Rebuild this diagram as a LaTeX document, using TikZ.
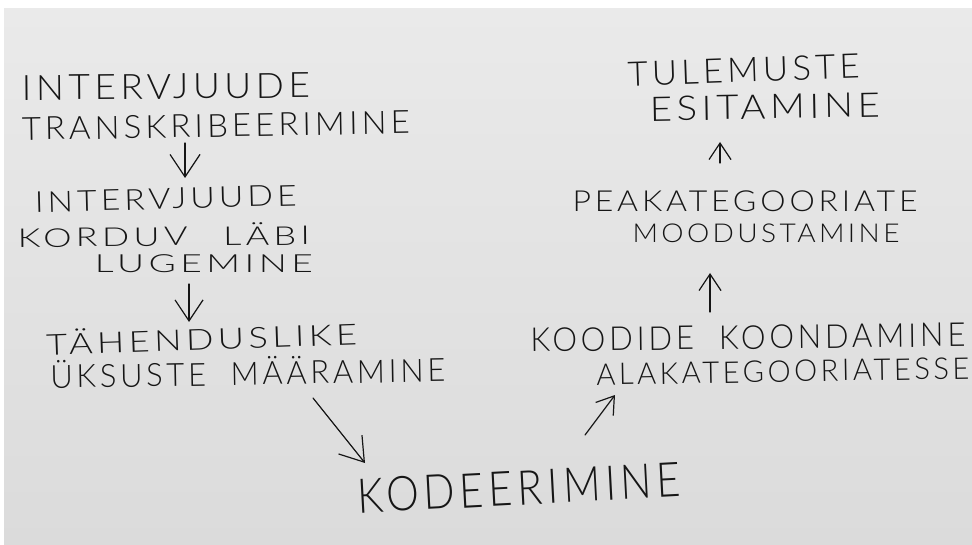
\documentclass[tikz,border=0pt]{standalone}
\usepackage{fontspec}
\usepackage{graphicx}
\usetikzlibrary{arrows.meta}
\usetikzlibrary{calc}

\IfFontExistsTF{Lato Light}
  {\newfontfamily\kiri{Lato Light}[LetterSpace=12]}
  {\newfontfamily\kiri{Open Sans}[LetterSpace=12]}

\definecolor{paber}{RGB}{234,234,234}
\definecolor{paberall}{RGB}{219,219,219}
\definecolor{tint}{RGB}{22,22,22}

% one handwritten line: width (pt), font size (pt), text
\newcommand\rida[3]{{\fontsize{#2}{#2}\selectfont\resizebox{#1pt}{\height}{#3}}}

\begin{document}
\begin{tikzpicture}[x=1pt, y=-1pt, line cap=round, line join=round,
    kiri/.style={anchor=base, inner sep=0pt, text=tint, font=\kiri},
    nool/.style={draw=tint, line width=1.2pt,
      -{Straight Barb[length=#1*0.75pt, width=#1*1pt, line width=1.2pt]}},
    nool/.default=26]

  % ===== Paper =====
  \useasboundingbox (0,0) rectangle (972,545);
  \fill[white] (0,0) rectangle (972,545);
  \shade[top color=paber, bottom color=paberall] (4,9) rectangle (972,545);

  % ===== Left column =====
  \node[kiri, rotate=0.5] (intv1) at (166,99)  {\rida{288}{35}{INTERVJUUDE}};
  \node[kiri, rotate=1] (transkr) at (216,137) {\rida{388}{32}{TRANSKRIBEERIMINE}};

  \node[kiri, rotate=1.5] (intv2) at (166,209) {\rida{262}{29}{INTERVJUUDE}};
  \node[kiri, rotate=0.5] (korduv) at (164,246) {\rida{292}{26}{KORDUV\hspace{1em}LÄBI}};
  \node[kiri] (lugem)             at (204,273) {\rida{218}{25}{LUGEMINE}};

  \node[kiri, rotate=2] (tahend)  at (202,350) {\rida{311}{29}{TÄHENDUSLIKE}};
  \node[kiri, rotate=1] (maaram)  at (248,385) {\rida{395}{32}{ÜKSUSTE\hspace{0.8em}MÄÄRAMINE}};

  % ===== Bottom =====
  \node[kiri, rotate=3] (kodeer)  at (520,505) {\rida{324}{48}{KODEERIMINE}};

  % ===== Right column =====
  \node[kiri, rotate=0.7] (koond1) at (748,349) {\rida{435}{33}{KOODIDE\hspace{0.8em}KOONDAMINE}};
  \node[kiri, rotate=1] (koond2)  at (783,382) {\rida{373}{30}{ALAKATEGOORIATESSE}};

  \node[kiri] (peak1)             at (745,212) {\rida{345}{29}{PEAKATEGOORIATE}};
  \node[kiri] (peak2)             at (766,243) {\rida{267}{26}{MOODUSTAMINE}};

  \node[kiri, rotate=2] (tul1)    at (744,82)  {\rida{232}{34}{TULEMUSTE}};
  \node[kiri, rotate=1] (tul2)    at (765,119) {\rida{230}{34}{ESITAMINE}};

  % ===== Arrows =====
  \draw[nool=30] ($(transkr.base)+(-31,6)$) -- ($(intv2.base)+(19,-31)$);
  \draw[nool=28] ($(lugem.base)+(-15,11)$) -- ($(tahend.base)+(-13,-28)$);

  \draw[nool=30] ($(maaram.base)+(65,13)$) -- ($(kodeer.base)+(-155,-42)$);
  \draw[nool=22] ($(kodeer.base)+(65,-70)$) -- ($(koond2.base)+(-168,13)$);

  \draw[nool=22] ($(koond1.base)+(-38,-37)$) -- ($(peak2.base)+(-56,30)$);
  \draw[nool=22] ($(peak1.base)+(-25,-49)$) -- ($(tul2.base)+(-45,23)$);

\end{tikzpicture}
\end{document}
